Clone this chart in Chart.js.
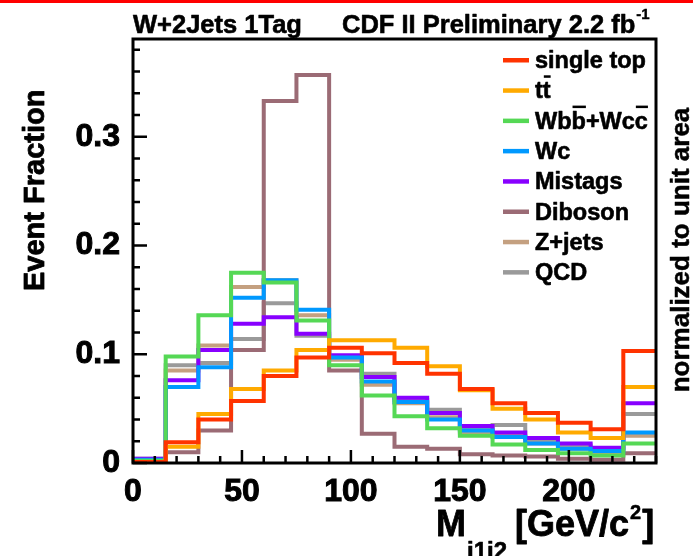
<!DOCTYPE html>
<html><head><meta charset="utf-8">
<script src="https://cdn.jsdelivr.net/npm/chart.js@4"></script>
<style>html,body{margin:0;padding:0;background:#fff}#wrap{width:693px;height:556px;position:relative}</style>
</head><body><div id="wrap"><canvas id="c" width="693" height="556"></canvas></div>
<script>
// ---- data ----
const binEdges = [0,15,30,45,60,75,90,105,120,135,150,165,180,195,210,225,240];
const seriesLabels = ['single top','tt\u0305','Wbb\u0305+Wcc\u0305','Wc','Mistags','Diboson','Z+jets','QCD'];
const seriesColors = ['#ff3300','#ffaa00','#55d855','#0099ff','#8800ff','#9b6b75','#c4a080','#9a9a9a'];
const singleTop = [0.001,0.019,0.040,0.057,0.080,0.097,0.106,0.101,0.092,0.082,0.068,0.055,0.046,0.037,0.031,0.103];
const ttbar     = [0.001,0.015,0.045,0.068,0.085,0.104,0.113,0.113,0.106,0.089,0.067,0.050,0.040,0.028,0.023,0.070];
const wbbWcc    = [0.002,0.098,0.136,0.175,0.166,0.131,0.090,0.062,0.043,0.032,0.025,0.017,0.012,0.009,0.007,0.018];
const wc        = [0.003,0.070,0.088,0.152,0.168,0.141,0.097,0.075,0.056,0.040,0.030,0.024,0.018,0.013,0.011,0.028];
const mistags   = [0.004,0.076,0.104,0.128,0.134,0.119,0.099,0.079,0.060,0.046,0.034,0.028,0.023,0.018,0.014,0.055];
const diboson   = [0.002,0.010,0.030,0.104,0.333,0.357,0.085,0.027,0.015,0.013,0.008,0.007,0.006,0.004,0.003,0.009];
const zjets     = [0.003,0.085,0.108,0.162,0.168,0.136,0.095,0.072,0.055,0.042,0.028,0.025,0.018,0.013,0.010,0.025];
const qcd       = [0.004,0.090,0.092,0.114,0.147,0.117,0.097,0.082,0.058,0.049,0.031,0.035,0.021,0.016,0.012,0.045];
const seriesValues = [singleTop, ttbar, wbbWcc, wc, mistags, diboson, zjets, qcd];
const xTickLabels = [0,50,100,150,200];
const yTickLabels = [0,0.1,0.2,0.3];

const FONT = '"Liberation Sans", Arial, Helvetica, sans-serif';

function histPoints(vals){
  const pts = vals.map((v,i)=>({x:binEdges[i], y:v}));
  pts.push({x:binEdges[binEdges.length-1], y:vals[vals.length-1]});
  return pts;
}

function boldText(ctx, s, x, y, sw){
  ctx.lineWidth = sw;
  ctx.strokeText(s, x, y);
  ctx.fillText(s, x, y);
}

function drawBarText(ctx, str, x, y, capH, sw){
  // draws text, rendering U+0305 as an overline above the preceding char
  let cx = x;
  const chars = Array.from(str);
  for (let i=0;i<chars.length;i++){
    const ch = chars[i];
    if (ch === '\u0305') continue;
    const w = ctx.measureText(ch).width;
    boldText(ctx, ch, cx, y, sw);
    if (chars[i+1] === '\u0305'){
      ctx.fillRect(cx+1, y - capH - 6, w-1, 2.5);
    }
    cx += w;
  }
  return cx;
}

const framePlugin = {
  id:'frame',
  afterDatasetsDraw(chart){
    const {ctx, chartArea:a, scales} = chart;
    ctx.save();
    ctx.strokeStyle = '#000';
    ctx.lineWidth = 2.5;
    const xs = scales.x, ys = scales.y;
    ctx.beginPath();
    for (let v=0; v<=240; v+=10){
      const px = xs.getPixelForValue(v);
      const len = (v%50===0)?13:7;
      ctx.moveTo(px, a.bottom); ctx.lineTo(px, a.bottom-len);
    }
    for (let k=0; k<=19; k++){
      const v = k*0.02;
      if (v > ys.max) break;
      const py = ys.getPixelForValue(v);
      const len = (k%5===0)?14:7;
      ctx.moveTo(a.left, py); ctx.lineTo(a.left+len, py);
    }
    ctx.stroke();
    ctx.lineWidth = 3;
    ctx.strokeRect(a.left, a.top, a.right-a.left, a.bottom-a.top);
    ctx.restore();
  },
  afterDraw(chart){
    const {ctx} = chart;
    ctx.save();
    ctx.fillStyle = '#ff0000';
    ctx.fillRect(0,0,693,3);
    ctx.fillStyle = '#000';
    ctx.strokeStyle = '#000';
    ctx.lineJoin = 'round';
    ctx.textBaseline = 'alphabetic';
    ctx.textAlign = 'left';
    // header texts
    ctx.font = 'bold 25.5px ' + FONT;
    boldText(ctx, 'W+2Jets 1Tag', 133, 33, 0.6);
    let w = ctx.measureText('CDF II Preliminary 2.2 fb').width;
    boldText(ctx, 'CDF II Preliminary 2.2 fb', 342, 33, 0.6);
    ctx.font = 'bold 15px ' + FONT;
    boldText(ctx, '-1', 342 + w + 1, 19, 0.4);
    // legend
    ctx.font = 'bold 23.5px ' + FONT;
    const ds = chart.data.datasets;
    for (let i=0;i<ds.length;i++){
      const yc = 60 + i*30.3;
      ctx.fillStyle = ds[i].borderColor;
      ctx.fillRect(503, yc-2, 26, 4.5);
      ctx.fillStyle = '#000';
      drawBarText(ctx, ds[i].label, 535, yc+8, 17, 0.6);
    }
    // y axis title
    ctx.save();
    ctx.translate(44, 291);
    ctx.rotate(-Math.PI/2);
    ctx.font = 'bold 29px ' + FONT;
    boldText(ctx, 'Event Fraction', 0, 0, 0.8);
    ctx.restore();
    // right side note
    ctx.save();
    ctx.translate(689, 250);
    ctx.rotate(-Math.PI/2);
    ctx.font = 'bold 26px ' + FONT;
    ctx.textAlign = 'center';
    boldText(ctx, 'normalized to unit area', 0, 0, 0.5);
    ctx.restore();
    // x axis title
    ctx.font = 'bold 36px ' + FONT;
    let x = 436;
    boldText(ctx, 'M', x, 536, 0.8); x += ctx.measureText('M').width + 1;
    ctx.font = 'bold 24px ' + FONT;
    boldText(ctx, 'j1j2', x, 559, 0.6); x += ctx.measureText('j1j2').width + 8;
    ctx.font = 'bold 36px ' + FONT;
    boldText(ctx, '[GeV/c', x, 536, 0.8); x += ctx.measureText('[GeV/c').width + 1;
    ctx.font = 'bold 20px ' + FONT;
    boldText(ctx, '2', x, 519, 0.5); x += ctx.measureText('2').width + 1;
    ctx.font = 'bold 36px ' + FONT;
    boldText(ctx, ']', x, 536, 0.8);
    ctx.restore();
  }
};

new Chart(document.getElementById('c'), {
  type:'line',
  data:{
    datasets: seriesValues.map((vals,i)=>({
      label: seriesLabels[i],
      data: histPoints(vals),
      borderColor: seriesColors[i],
      backgroundColor: seriesColors[i],
      borderWidth: 4,
      stepped: 'before',
      pointRadius: 0,
      fill: false,
      tension: 0,
      borderJoinStyle: 'miter',
      borderCapStyle: 'butt'
    }))
  },
  options:{
    responsive:false,
    devicePixelRatio:1,
    animation:false,
    layout:{padding:{top:39,right:37,left:0,bottom:0}},
    plugins:{legend:{display:false}, tooltip:{enabled:false}, title:{display:false}},
    scales:{
      x:{
        type:'linear', min:0, max:240,
        grid:{display:false},
        border:{display:false},
        afterFit(s){ s.height = 93; },
        afterBuildTicks(s){ s.ticks = xTickLabels.map(v=>({value:v})); },
        ticks:{
          padding:2, maxRotation:0, autoSkip:false,
          color:'#000', textStrokeColor:'#000', textStrokeWidth:1,
          font:{family:FONT, size:32, weight:'bold'},
          callback:(v)=>String(v)
        }
      },
      y:{
        type:'linear', min:0, max:0.39,
        grid:{display:false},
        border:{display:false},
        afterFit(s){ s.width = 133; },
        afterBuildTicks(s){ s.ticks = yTickLabels.map(v=>({value:v})); },
        ticks:{
          padding:5, autoSkip:false,
          color:'#000', textStrokeColor:'#000', textStrokeWidth:1,
          font:{family:FONT, size:32, weight:'bold'},
          callback:(v)=> v===0 ? '0' : Number(v).toFixed(1)
        }
      }
    }
  },
  plugins:[framePlugin]
});
</script>
</body></html>
